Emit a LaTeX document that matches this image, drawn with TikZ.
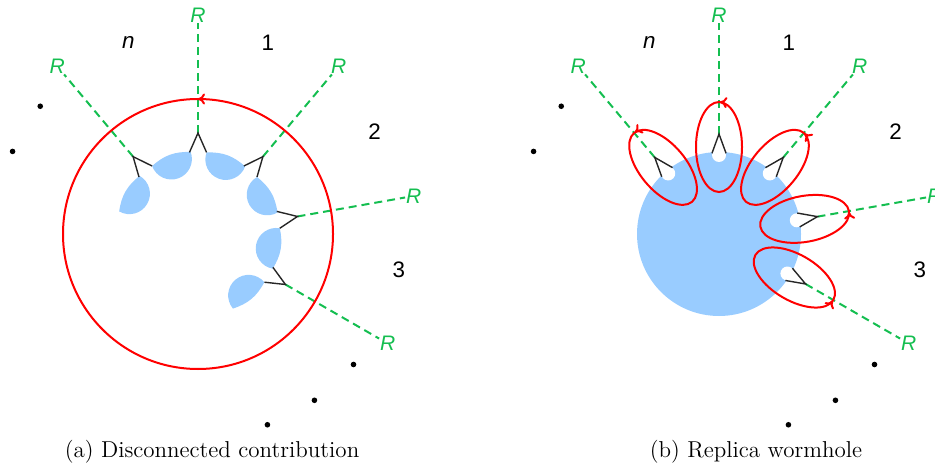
\documentclass[tikz,border=0pt]{standalone}
\usepackage{fontspec}
\usepackage{xcolor}
\usepackage{tikz}
\usetikzlibrary{arrows.meta, calc, decorations.markings}
\newfontfamily\figfont{Liberation Sans}
\definecolor{wormblue}{RGB}{153,204,255}
\definecolor{replicagreen}{RGB}{20,190,80}

\begin{document}
\begin{tikzpicture}[
      x=0.5pt, y=0.5pt,
      rline/.style={replicagreen, line width=1pt, dash pattern=on 4pt off 2.5pt},
      rlabel/.style={text=replicagreen, inner sep=0.3pt, font=\figfont\itshape\fontsize{10.5}{12}\selectfont},
      sheet/.style={inner sep=0pt, font=\figfont\fontsize{11.2}{13}\selectfont},
      arm/.style={line width=0.7pt, black!85},
      contour/.style={red, line width=1pt, postaction={decorate},
        decoration={markings, mark=at position #1 with {\arrow{To[length=3.5pt, width=5.5pt]}}}},
      gap/.style={circle, fill, inner sep=0pt, minimum size=2.8pt},
      caption/.style={font=\fontsize{11.5}{14}\selectfont}
    ]
    \useasboundingbox (0,0) rectangle (935,466);

    % (a) disconnected
    \begin{scope}[shift={(198,232)}]
      \coordinate (a-o) at (0,0);
      \foreach \t in {170,130,90,50,10,-30}
        \fill[wormblue] (\t-6:82) arc[start angle=\t+70, end angle=\t+250, radius=20.5] to[bend right=22] cycle;
      \foreach \t [count=\i] in {130,90,50,10,-30} {
        \coordinate (a-v\i) at (\t:101);
        \coordinate (a-p\i) at (\t+6:82);
        \coordinate (a-q\i) at (\t-6:82);
        \node[rlabel] (a-R\i) at (\t:219) {R};
        \draw[rline] (a-v\i) -- (a-R\i);
        \draw[arm] (a-p\i) -- (a-v\i) -- (a-q\i);
      }
      \foreach \t/\s [count=\i] in {110/\itshape n, 70/1, 30/2, -10/3}
        \node[sheet] (a-s\i) at (\t:204) {\s};
      \foreach \t [count=\i] in {141,156,-40,-55,-70}
        \node[gap] (a-d\i) at (\t:203) {};
      \draw[contour=0.25] (a-o) circle[radius=135];
    \end{scope}

    % (b) wormhole
    \begin{scope}[shift={(719,232)}]
      \coordinate (b-o) at (0,0);
      \fill[wormblue] (b-o) circle[radius=82];
      \foreach \t [count=\i] in {130,90,50,10,-30} {
        \fill[white] (\t:79) circle[radius=7];
        \coordinate (b-v\i) at (\t:100);
        \coordinate (b-p\i) at (\t+5:81);
        \coordinate (b-q\i) at (\t-5:81);
        \node[rlabel] (b-R\i) at (\t:219) {R};
        \draw[rline] (b-v\i) -- (b-R\i);
        \draw[arm] (b-p\i) -- (b-v\i) -- (b-q\i);
        \begin{scope}[shift={(\t:87)}, rotate=\t]
          \draw[contour=0.995] (0,0) ellipse[x radius=45, y radius=23];
        \end{scope}
      }
      \foreach \t/\s [count=\i] in {110/\itshape n, 70/1, 30/2, -10/3}
        \node[sheet] (b-s\i) at (\t:204) {\s};
      \foreach \t [count=\i] in {141,156,-40,-55,-70}
        \node[gap] (b-d\i) at (\t:203) {};
    \end{scope}

    \node[caption] (cap-a) at (212,14) {(a) Disconnected contribution};
    \node[caption] (cap-b) at (756,14) {(b) Replica wormhole};
  \end{tikzpicture}
\end{document}
